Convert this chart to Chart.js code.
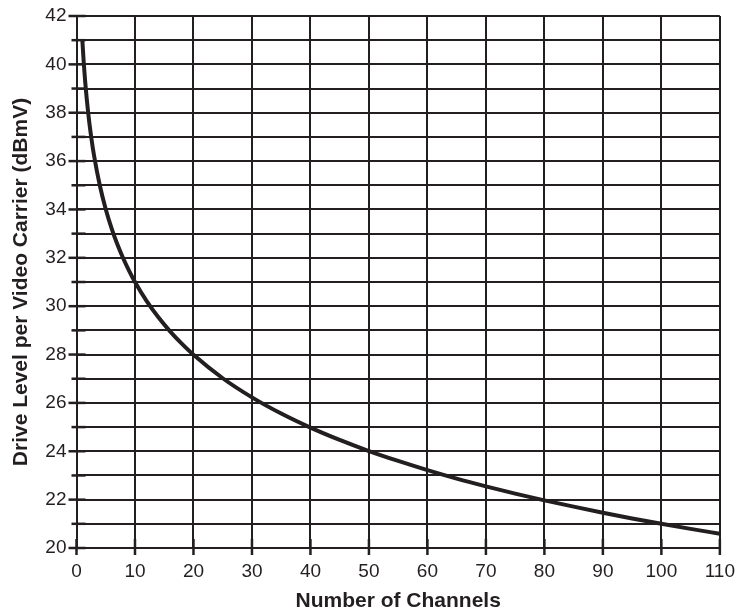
<!DOCTYPE html>
<html>
<head>
<meta charset="utf-8">
<script src="https://cdn.jsdelivr.net/npm/chart.js@4.4.1/dist/chart.umd.min.js"></script>
<style>
  html, body { margin: 0; padding: 0; background: #fff; }
  #wrap { width: 740px; height: 615px; }
</style>
</head>
<body>
<div id="wrap"><canvas id="chart"></canvas></div>
<script>
// values
const channels   = [1, 1.25, 1.5, 2, 2.5, 3, 4, 5, 6, 7, 8, 9, 10, 12, 14, 16, 18, 20, 25, 30, 35, 40, 45, 50, 55, 60, 65, 70, 75, 80, 85, 90, 95, 100, 105, 110];
const driveLevel = [41.00, 40.03, 39.24, 37.99, 37.02, 36.23, 34.98, 34.01, 33.22, 32.55, 31.97, 31.46, 31.00, 30.21, 29.54, 28.96, 28.45, 27.99, 27.02, 26.23, 25.56, 24.98, 24.47, 24.01, 23.60, 23.22, 22.87, 22.55, 22.25, 21.97, 21.71, 21.46, 21.22, 21.00, 20.79, 20.59];

const xTitle = 'Number of Channels';
const yTitle = 'Drive Level per Video Carrier (dBmV)';

const INK = '#231f20';
const FONT = "'Liberation Sans', Arial, Helvetica, sans-serif";

// short tick stubs on both sides of the axes, like the printed graph paper
const axisStubs = {
  id: 'axisStubs',
  afterDatasetsDraw(chart) {
    const { ctx, chartArea, scales } = chart;
    ctx.save();
    ctx.strokeStyle = INK;
    ctx.lineCap = 'butt';
    ctx.lineWidth = 2.5;
    scales.y.ticks.forEach(t => {
      const y = scales.y.getPixelForValue(t.value);
      const major = t.value % 2 === 0;
      ctx.beginPath();
      ctx.moveTo(chartArea.left - (major ? 8 : 5), y);
      ctx.lineTo(chartArea.left + 9, y);
      ctx.stroke();
    });
    scales.x.ticks.forEach(t => {
      const x = scales.x.getPixelForValue(t.value);
      ctx.beginPath();
      ctx.moveTo(x, chartArea.bottom - 9);
      ctx.lineTo(x, chartArea.bottom + 7);
      ctx.stroke();
    });
    ctx.restore();
  }
};

new Chart(document.getElementById('chart'), {
  type: 'line',
  data: {
    datasets: [{
      data: channels.map((c, i) => ({ x: c, y: driveLevel[i] })),
      borderColor: INK,
      borderWidth: 4,
      pointRadius: 0,
      fill: false,
      cubicInterpolationMode: 'monotone',
    }],
  },
  options: {
    responsive: true,
    maintainAspectRatio: false,
    animation: false,
    layout: { padding: { top: 16, right: 16, left: 0, bottom: 0 } },
    plugins: { legend: { display: false }, tooltip: { enabled: false } },
    scales: {
      x: {
        type: 'linear',
        min: 0, max: 110,
        afterFit: s => { s.height = 67; },
        ticks: {
          stepSize: 10,
          color: INK,
          padding: 5,
          font: { family: FONT, size: 19 },
          maxRotation: 0,
        },
        grid: { color: INK, lineWidth: 2, tickLength: 7, tickColor: 'transparent' },
        border: { color: INK, width: 2 },
        title: {
          display: true,
          text: xTitle,
          color: INK,
          font: { family: FONT, size: 21, weight: 'bold' },
          padding: { top: 0, bottom: 1 },
        },
      },
      y: {
        min: 20, max: 42,
        afterFit: s => { s.width = 76.5; },
        ticks: {
          stepSize: 1,
          autoSkip: false,
          color: INK,
          padding: 2,
          font: { family: FONT, size: 19 },
          callback: v => (v % 2 === 0 ? v : ''),
        },
        grid: { color: INK, lineWidth: 2, tickLength: 8, tickColor: 'transparent' },
        border: { color: INK, width: 2 },
        title: {
          display: true,
          text: yTitle,
          color: INK,
          font: { family: FONT, size: 21, weight: 'bold' },
          padding: { top: 9, bottom: 0 },
        },
      },
    },
  },
  plugins: [axisStubs],
});
</script>
</body>
</html>
